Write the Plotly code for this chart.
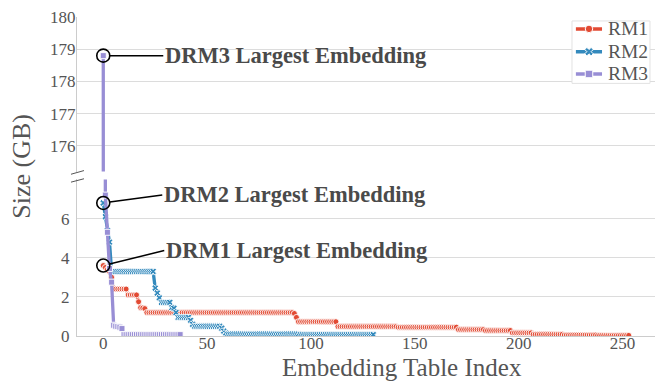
import numpy as np
import plotly.graph_objects as go

# Embedding table sizes (GB), sorted largest first, stored as step levels + run lengths
rm1_levels = [3.6, 3.5, 3.4, 3.3, 3.0, 2.4, 2.1, 1.75, 1.45, 1.43, 1.4, 1.2, 1.15, 0.95,
              0.73, 0.48, 0.45, 0.33, 0.28, 0.16, 0.09, 0.05, 0.03]
rm1_counts = [1, 1, 1, 1, 1, 7, 5, 1, 1, 1, 1, 71, 1, 1,
              19, 29, 29, 13, 13, 10, 15, 16, 16]

rm2_levels = [6.8, 6.1, 5.4, 4.8, 3.3, 2.45, 2.2, 1.95, 1.72, 1.45, 1.42, 1.2, 0.95,
              0.8, 0.6, 0.5, 0.4, 0.25, 0.15, 0.1, 0.07]
rm2_counts = [1, 1, 1, 1, 21, 1, 1, 1, 5, 1, 1, 1, 6,
              1, 1, 13, 1, 1, 1, 35, 36]

rm3_levels = [178.8, 7.2, 5.3, 3.45, 2.75, 0.55, 0.5, 0.48, 0.45, 0.38, 0.07]
rm3_counts = [1, 1, 1, 1, 1, 1, 1, 1, 1, 1, 28]

series_names = ["RM1", "RM2", "RM3"]
series_colors = ["#E24A33", "#348ABD", "#988ED5"]
series_symbols = ["circle", "x", "square"]

# Largest-embedding callouts: (label, series index)
callouts = [("DRM3 Largest Embedding", 2), ("DRM2 Largest Embedding", 1), ("DRM1 Largest Embedding", 0)]

x_ticks = [0, 50, 100, 150, 200, 250]
top_ticks = [176, 177, 178, 179, 180]
bottom_ticks = [0, 2, 4, 6]

values = [np.repeat(rm1_levels, rm1_counts),
          np.repeat(rm2_levels, rm2_counts),
          np.repeat(rm3_levels, rm3_counts)]

TXT = "#555555"
GRID = "#dcdcdc"
SPINE = "#cccccc"
FONT = "Liberation Serif"

fig = go.Figure()

# bottom panel (0-8 GB) and top panel (175-180 GB) share the same x scale
for i, (name, col, sym) in enumerate(zip(series_names, series_colors, series_symbols)):
    y = values[i]
    x = np.arange(len(y))
    style = dict(mode="lines+markers",
                 line=dict(color=col, width=3.3),
                 marker=dict(symbol=sym, size=6, color=col,
                             line=dict(color="white", width=0.9)),
                 showlegend=False)
    fig.add_trace(go.Scatter(x=x, y=y, name=name, xaxis="x", yaxis="y2", **style))
    fig.add_trace(go.Scatter(x=x, y=y, name=name, xaxis="x2", yaxis="y", **style))

# circles marking the first (largest) table of each model
annotations = []
offsets = {2: (60, 0), 1: (59, -8), 0: (61, -15)}
for label, si in callouts:
    yv = float(values[si][0])
    on_top = yv > 100
    fig.add_trace(go.Scatter(
        x=[0], y=[yv], mode="markers", showlegend=False, hoverinfo="skip",
        xaxis="x2" if on_top else "x", yaxis="y" if on_top else "y2",
        marker=dict(symbol="circle-open", size=13, color="black", line=dict(width=1.6))))
    ax, ay = offsets[si]
    annotations.append(dict(
        x=0, y=yv, xref="x2" if on_top else "x", yref="y" if on_top else "y2",
        text=f"<b>{label}</b>", showarrow=True, arrowhead=0, arrowwidth=1.5,
        arrowcolor="black", ax=ax, ay=ay, standoff=6.5,
        xanchor="left", yanchor="middle",
        font=dict(family=FONT, size=22.5, color="#4a4a4a")))

annotations.append(dict(text="Size (GB)", xref="paper", yref="paper", x=-0.095, y=0.531,
                        textangle=-90, showarrow=False, xanchor="center", yanchor="middle",
                        font=dict(family=FONT, size=26, color=TXT)))
annotations.append(dict(text="Embedding Table Index", xref="paper", yref="paper",
                        x=0.562, y=-0.0975, showarrow=False, xanchor="center", yanchor="middle",
                        font=dict(family=FONT, size=25, color=TXT)))

# break marks on the left spine between the two panels
shapes = []
for y0, y1 in [(0.5071, 0.5186), (0.4823, 0.4929)]:
    shapes.append(dict(type="line", xref="paper", yref="paper", x0=-0.0104, x1=0.0121,
                       y0=y0, y1=y1, line=dict(color="#555555", width=1)))

# legend: a small white subplot in the upper right corner holds the samples
LEG_X = [0.8564, 0.9913]
LEG_Y = [0.7919, 0.9876]
shapes.append(dict(type="rect", xref="paper", yref="paper", x0=LEG_X[0], x1=LEG_X[1],
                   y0=LEG_Y[0], y1=LEG_Y[1], layer="above",
                   line=dict(color="#e2e2e2", width=1)))
leg_rows = [0.873, 0.508, 0.151]
for name, col, sym, ly in zip(series_names, series_colors, series_symbols, leg_rows):
    fig.add_trace(go.Scatter(x=[0.05, 0.385], y=[ly, ly], mode="lines", xaxis="x3", yaxis="y3",
                             line=dict(color=col, width=3.5), showlegend=False, hoverinfo="skip"))
    fig.add_trace(go.Scatter(x=[0.218], y=[ly], mode="markers", xaxis="x3", yaxis="y3",
                             marker=dict(symbol=sym, size=7.5, color=col,
                                         line=dict(color="white", width=1)),
                             showlegend=False, hoverinfo="skip"))
    annotations.append(dict(text=name, xref="x3", yref="y3", x=0.43, y=ly,
                            xanchor="left", yanchor="middle", showarrow=False,
                            font=dict(family=FONT, size=19.5, color=TXT)))

fig.update_layout(
    width=663, height=381,
    margin=dict(l=77, r=8, t=14, b=45),
    paper_bgcolor="white", plot_bgcolor="white",
    font=dict(family=FONT, size=17, color=TXT),
    showlegend=False,
    xaxis=dict(anchor="y2", domain=[0, 1], range=[-12.65, 265.65], tickvals=x_ticks,
               showgrid=False, zeroline=False, showline=True, linecolor=SPINE,
               linewidth=1, ticks="", ticklabelstandoff=-8, tickfont=dict(size=17, color=TXT)),
    xaxis2=dict(anchor="y", matches="x", domain=[0, 1], showticklabels=False,
                showgrid=False, zeroline=False, showline=False, ticks=""),
    xaxis3=dict(anchor="y3", domain=LEG_X, range=[0, 1], visible=False, fixedrange=True),
    yaxis=dict(domain=[0.5155, 1], range=[175.2, 180], tickvals=top_ticks,
               gridcolor=GRID, gridwidth=1, zeroline=False, showline=True,
               linecolor=SPINE, linewidth=1, ticks="", ticklabelstandoff=-3,
               tickfont=dict(size=17, color=TXT)),
    yaxis2=dict(domain=[0, 0.4907], range=[0, 8], tickvals=bottom_ticks,
                gridcolor=GRID, gridwidth=1, zeroline=False, showline=True,
                linecolor=SPINE, linewidth=1, ticks="", ticklabelstandoff=3,
                tickfont=dict(size=17, color=TXT)),
    yaxis3=dict(anchor="x3", domain=LEG_Y, range=[0, 1], visible=False, fixedrange=True),
    annotations=annotations,
    shapes=shapes,
)

fig.write_html("out.html")
